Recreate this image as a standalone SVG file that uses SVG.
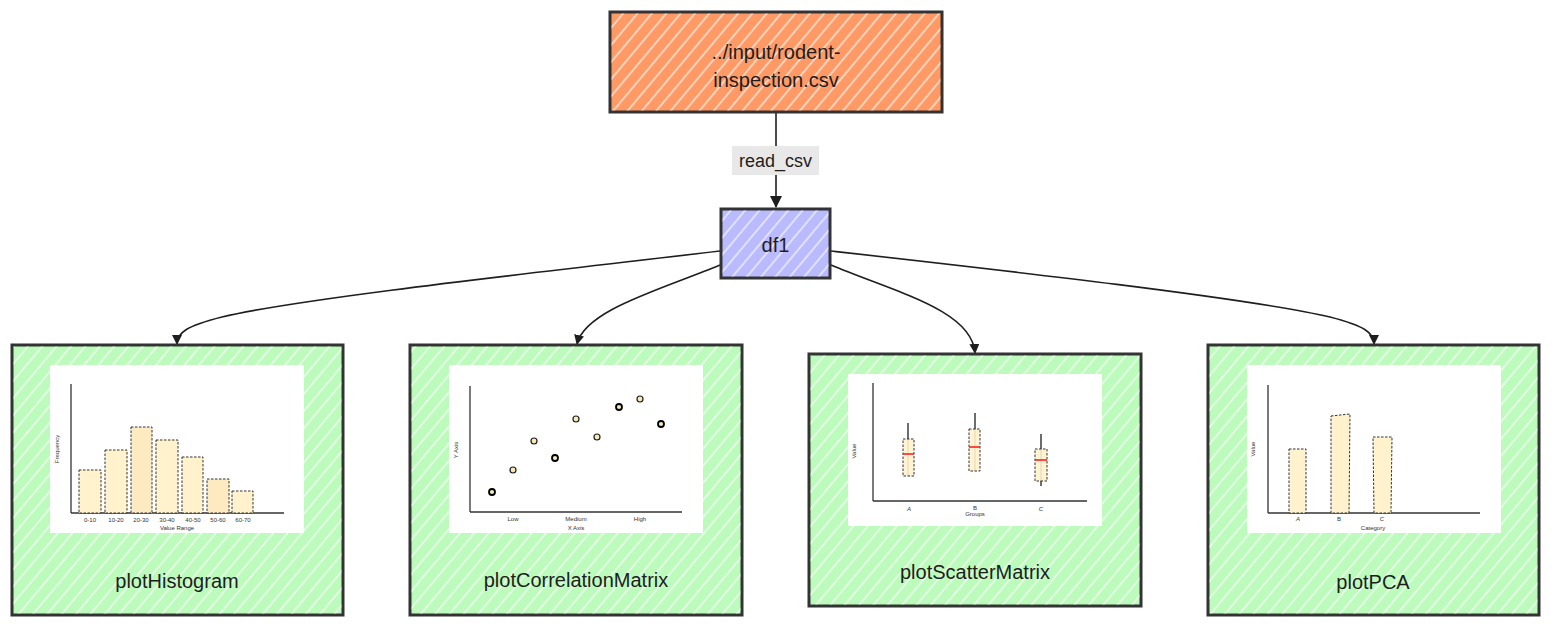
<svg xmlns="http://www.w3.org/2000/svg" width="1568" height="634" viewBox="0 0 1568 634">
<defs>
<pattern id="hatch" patternUnits="userSpaceOnUse" width="11" height="11" patternTransform="rotate(40)">
<line x1="2" y1="0" x2="2" y2="11" stroke="#ffffff" stroke-width="1.3" stroke-opacity="0.85"/>
</pattern>
<marker id="arrow" viewBox="0 0 10 10" refX="9" refY="5" markerWidth="10" markerHeight="10" markerUnits="userSpaceOnUse" orient="auto">
<path d="M0,0 L10,5 L0,10 Z" fill="#1e1e1e"/>
</marker>
<marker id="arrowBig" viewBox="0 0 12 12" refX="11" refY="6" markerWidth="12" markerHeight="12" markerUnits="userSpaceOnUse" orient="auto">
<path d="M0,0 L12,6 L0,12 Z" fill="#1e1e1e"/>
</marker>
</defs>
<style>
.box{stroke:#333;stroke-width:3;}
.hatch{fill:url(#hatch);stroke:none;}
.lbl{font-family:"Liberation Sans","DejaVu Sans",sans-serif;font-size:20px;fill:#1e1e1e;text-anchor:middle;dominant-baseline:central;}
.elbl{font-family:"Liberation Sans","DejaVu Sans",sans-serif;font-size:18px;fill:#1e1e1e;text-anchor:middle;dominant-baseline:central;}
.edge{fill:none;stroke:#1e1e1e;stroke-width:1.6;}
.img{fill:#ffffff;}
.axis{stroke:#333;stroke-width:1.3;fill:none;}
.bar{fill:#fff2cc;stroke:#333;stroke-width:1;stroke-dasharray:2.5 1.5;}
.bar2{fill:#fdeac0;stroke:#333;stroke-width:1;stroke-dasharray:2.5 1.5;}
.tick{font-family:"Liberation Sans","DejaVu Sans",sans-serif;font-size:6px;fill:#333;text-anchor:middle;dominant-baseline:central;}
.pt{fill:#f7e9b8;stroke:#1e1e1e;stroke-width:1.2;}
.ptd{fill:#f7e9b8;stroke:#000;stroke-width:1.8;}
.med{stroke:#ff1f1f;stroke-width:1.6;}
.wh{stroke:#1e1e1e;stroke-width:1.3;}
</style>

<g id="connectors">
<path class="edge" d="M776,113 L776,207" marker-end="url(#arrowBig)"/>
<rect x="732" y="146" width="87" height="29" fill="#e8e8e8"/>
<text class="elbl" x="775.5" y="161">read_csv</text>
<path class="edge" d="M720,251 C560,270 300,298 222,317 C186,326 177,333 177,344" marker-end="url(#arrow)"/>
<path class="edge" d="M720,265 C660,290 585,310 577,344" marker-end="url(#arrow)"/>
<path class="edge" d="M831,265 C895,292 972,310 975,353" marker-end="url(#arrow)"/>
<path class="edge" d="M831,251 C1000,270 1250,298 1330,317 C1365,326 1374,333 1374,344" marker-end="url(#arrow)"/>
</g>

<g id="node-input">
<rect class="box" x="610" y="12" width="332" height="100" fill="#ff9a66"/>
<rect class="hatch" x="611.5" y="13.5" width="329" height="97"/>
<text class="lbl" x="776" y="52">../input/rodent-</text>
<text class="lbl" x="776" y="80">inspection.csv</text>
</g>

<g id="node-df1">
<rect class="box" x="721" y="209" width="109" height="69" fill="#babaff"/>
<rect class="hatch" x="722.5" y="210.5" width="106" height="66"/>
<text class="lbl" x="775.5" y="245">df1</text>
</g>

<g id="node-plotHistogram">
<rect class="box" x="12" y="345" width="331" height="270" fill="#bdfbbd"/>
<rect class="hatch" x="13.5" y="346.5" width="328" height="267"/>
<rect class="img" x="50" y="365" width="254" height="168"/>
<line class="axis" x1="71" y1="384" x2="71" y2="513"/>
<line class="axis" x1="71" y1="513" x2="284" y2="513"/>
<rect class="bar" x="79" y="470" width="22" height="43"/>
<rect class="bar" x="105" y="450" width="22" height="63"/>
<rect class="bar2" x="131" y="427" width="21" height="86"/>
<rect class="bar" x="156" y="440" width="22" height="73"/>
<rect class="bar" x="182" y="457" width="21" height="56"/>
<rect class="bar2" x="207" y="479" width="22" height="34"/>
<rect class="bar" x="232" y="491" width="21" height="22"/>
<text class="tick" x="90" y="519.5">0-10</text>
<text class="tick" x="116" y="519.5">10-20</text>
<text class="tick" x="141" y="519.5">20-30</text>
<text class="tick" x="167" y="519.5">30-40</text>
<text class="tick" x="193" y="519.5">40-50</text>
<text class="tick" x="218" y="519.5">50-60</text>
<text class="tick" x="243" y="519.5">60-70</text>
<text class="tick" x="177" y="528">Value Range</text>
<text class="tick" x="57" y="449" transform="rotate(-90 57 449)">Frequency</text>
<text class="lbl" x="177" y="581">plotHistogram</text>
</g>

<g id="node-plotCorrelationMatrix">
<rect class="box" x="410" y="345" width="332" height="270" fill="#bdfbbd"/>
<rect class="hatch" x="411.5" y="346.5" width="329" height="267"/>
<rect class="img" x="449" y="365" width="254" height="168"/>
<line class="axis" x1="470" y1="386" x2="470" y2="512"/>
<line class="axis" x1="470" y1="512" x2="682" y2="512"/>
<circle class="ptd" cx="492" cy="492" r="3"/>
<circle class="pt" cx="513" cy="470" r="3"/>
<circle class="pt" cx="534" cy="441" r="3"/>
<circle class="ptd" cx="555" cy="458" r="3"/>
<circle class="pt" cx="576" cy="419" r="3"/>
<circle class="pt" cx="597" cy="437" r="3"/>
<circle class="ptd" cx="619" cy="407" r="3"/>
<circle class="pt" cx="640" cy="399" r="3"/>
<circle class="ptd" cx="661" cy="424" r="3"/>
<text class="tick" x="513" y="519">Low</text>
<text class="tick" x="576" y="519">Medium</text>
<text class="tick" x="640" y="519">High</text>
<text class="tick" x="576" y="528">X Axis</text>
<text class="tick" x="456" y="450" transform="rotate(-90 456 450)">Y Axis</text>
<text class="lbl" x="576" y="580">plotCorrelationMatrix</text>
</g>

<g id="node-plotScatterMatrix">
<rect class="box" x="809" y="354" width="332" height="252" fill="#bdfbbd"/>
<rect class="hatch" x="810.5" y="355.5" width="329" height="249"/>
<rect class="img" x="848" y="374" width="254" height="152"/>
<line class="axis" x1="873" y1="383" x2="873" y2="501"/>
<line class="axis" x1="873" y1="501" x2="1087" y2="501"/>
<line class="wh" x1="908" y1="423" x2="908" y2="476"/>
<rect class="bar" x="903" y="439" width="11" height="37" fill-opacity="0.9"/>
<line class="med" x1="903" y1="454" x2="914" y2="454"/>
<line class="wh" x1="975" y1="413" x2="975" y2="471"/>
<rect class="bar" x="969" y="429" width="11" height="42" fill-opacity="0.9"/>
<line class="med" x1="969" y1="447" x2="980" y2="447"/>
<line class="wh" x1="1041" y1="434" x2="1041" y2="486"/>
<rect class="bar" x="1035" y="449" width="12" height="32" fill-opacity="0.9"/>
<line class="med" x1="1035" y1="460" x2="1047" y2="460"/>
<text class="tick" x="909" y="509" font-style="italic">A</text>
<text class="tick" x="975" y="508">B</text>
<text class="tick" x="1041" y="509" font-style="italic">C</text>
<text class="tick" x="975" y="514">Groups</text>
<text class="tick" x="854" y="451" transform="rotate(-90 854 451)">Value</text>
<text class="lbl" x="975" y="572">plotScatterMatrix</text>
</g>

<g id="node-plotPCA">
<rect class="box" x="1208" y="345" width="331" height="270" fill="#bdfbbd"/>
<rect class="hatch" x="1209.5" y="346.5" width="328" height="267"/>
<rect class="img" x="1247" y="365" width="254" height="168"/>
<line class="axis" x1="1268" y1="385" x2="1268" y2="513"/>
<line class="axis" x1="1268" y1="513" x2="1480" y2="513"/>
<rect class="bar" x="1289" y="449" width="17" height="64"/>
<path class="bar" d="M1331,416 L1350,414 L1349,513 L1331,513 Z"/>
<path class="bar" d="M1373,437 L1392,437 L1391,513 L1374,513 Z"/>
<text class="tick" x="1298" y="519" font-style="italic">A</text>
<text class="tick" x="1339" y="519">B</text>
<text class="tick" x="1382" y="519" font-style="italic">C</text>
<text class="tick" x="1373" y="528">Category</text>
<text class="tick" x="1253" y="449" transform="rotate(-90 1253 449)">Value</text>
<text class="lbl" x="1373" y="582">plotPCA</text>
</g>
</svg>
